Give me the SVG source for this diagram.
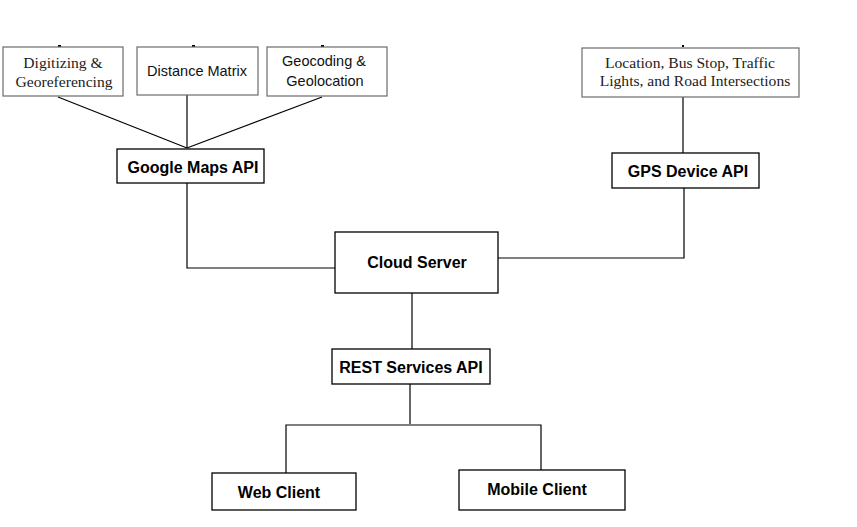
<svg xmlns="http://www.w3.org/2000/svg" width="857" height="527" viewBox="0 0 857 527">
<style>
.bx{fill:#fff;stroke:#000;stroke-width:1.3}
.gb{fill:#fff;stroke:#6b6b6b;stroke-width:1.2}
.ln{fill:none;stroke:#000;stroke-width:1.2}
.b{font-family:"Liberation Sans",Arial,sans-serif;font-weight:bold;font-size:16px;fill:#000;text-anchor:middle}
.s{font-family:"Liberation Serif","Times New Roman",serif;font-size:15.6px;fill:#222;text-anchor:middle}
.a{font-family:"Liberation Sans",Arial,sans-serif;font-size:14.5px;fill:#111;text-anchor:middle}
.tk{fill:#000}
</style>
<rect width="857" height="527" fill="#fff"/>
<g id="connectors">
<line class="ln" x1="58" y1="97" x2="187" y2="148"/>
<line class="ln" x1="187" y1="95" x2="187" y2="148"/>
<line class="ln" x1="322" y1="97" x2="187" y2="148"/>
<line class="ln" x1="683" y1="97" x2="683" y2="153"/>
<polyline class="ln" points="187,183 187,268 335,268"/>
<polyline class="ln" points="498,258 684,258 684,188"/>
<line class="ln" x1="412" y1="293" x2="412" y2="349"/>
<line class="ln" x1="410" y1="384" x2="410" y2="424"/>
<polyline class="ln" points="286,473 286,425 541,425 541,470"/>
<rect class="tk" x="58" y="45" width="3" height="2"/>
<rect class="tk" x="192" y="45" width="3" height="2"/>
<rect class="tk" x="321" y="45" width="3" height="2"/>
<rect class="tk" x="682" y="45" width="2" height="2"/>
</g>
<g id="digitizing">
<rect class="gb" x="3" y="47" width="120" height="49"/>
<text class="s" x="63" y="68">Digitizing &amp;</text>
<text class="s" x="64" y="87">Georeferencing</text>
</g>
<g id="distance-matrix">
<rect class="gb" x="137" y="47" width="121" height="48"/>
<text class="a" x="197" y="76">Distance Matrix</text>
</g>
<g id="geocoding">
<rect class="gb" x="267" y="47" width="120" height="49"/>
<text class="a" x="324" y="66">Geocoding &amp;</text>
<text class="a" x="325" y="86">Geolocation</text>
</g>
<g id="location">
<rect class="gb" x="582" y="48" width="217" height="49"/>
<text class="s" x="690" y="68">Location, Bus Stop, Traffic</text>
<text class="s" x="695" y="86">Lights, and Road Intersections</text>
</g>
<g id="google-maps-api">
<rect class="bx" x="117" y="149" width="147" height="34"/>
<text class="b" x="193" y="173">Google Maps API</text>
</g>
<g id="gps-device-api">
<rect class="bx" x="612" y="153" width="147" height="35"/>
<text class="b" x="688" y="177">GPS Device API</text>
</g>
<g id="cloud-server">
<rect class="bx" x="335" y="232" width="163" height="61"/>
<text class="b" x="417" y="268">Cloud Server</text>
</g>
<g id="rest-services-api">
<rect class="bx" x="332" y="349" width="158" height="35"/>
<text class="b" x="411" y="373">REST Services API</text>
</g>
<g id="web-client">
<rect class="bx" x="212" y="473" width="144" height="37"/>
<text class="b" x="279" y="498">Web Client</text>
</g>
<g id="mobile-client">
<rect class="bx" x="459" y="470" width="166" height="40"/>
<text class="b" x="537" y="495">Mobile Client</text>
</g>
</svg>
